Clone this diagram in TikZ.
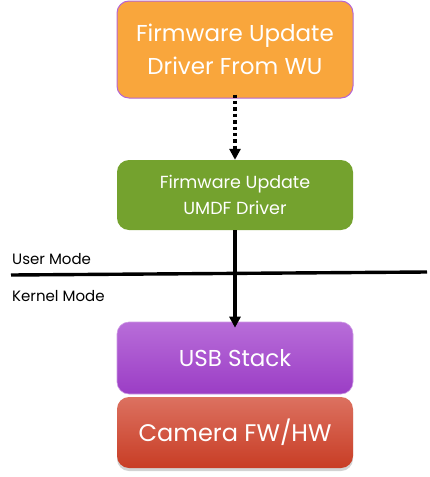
\documentclass[tikz,border=0pt]{standalone}
\usepackage{fontspec}
\setmainfont{Poppins}
\usetikzlibrary{arrows.meta,shadows}
\definecolor{orangefill}{HTML}{F9A63C}
\definecolor{orangeedge}{HTML}{B566D4}
\definecolor{greenfill}{HTML}{74A22E}
\definecolor{usbtop}{HTML}{B86DD9}
\definecolor{usbbot}{HTML}{9B3DC5}
\definecolor{camtop}{HTML}{DC7160}
\definecolor{cambot}{HTML}{C83D25}
\tikzset{
  box/.style={rounded corners=12pt, minimum width=236pt, inner sep=0pt, align=center, text=white},
  lbl/.style={anchor=west, inner sep=0pt, font=\fontsize{15}{17}\selectfont},
  conn/.style={line width=3.4pt, -{Triangle[length=11pt,width=11pt]}},
}
\begin{document}
\begin{tikzpicture}[x=1pt,y=-1pt]
\useasboundingbox (0,0) rectangle (429,477);
\node[box, fill=orangefill, draw=orangeedge, line width=1pt, minimum height=97pt,
  font=\fontsize{23}{33}\selectfont] (wu) at (235,49.5) {Firmware Update\\Driver From WU};
\node[box, fill=greenfill, minimum height=70pt,
  font=\fontsize{17.5}{26}\selectfont] (umdf) at (235,195) {Firmware Update\\UMDF Driver};
\node[box, top color=usbtop, bottom color=usbbot, draw=usbtop!70!white, line width=0.6pt, minimum height=72pt,
  font=\fontsize{23}{26}\selectfont] (usb) at (235,358) {USB Stack};
\node[box, top color=camtop, bottom color=cambot, minimum height=71pt,
  drop shadow={shadow xshift=0pt, shadow yshift=-3pt, opacity=0.35},
  font=\fontsize{24}{26}\selectfont] (cam) at (235,432.5) {Camera FW/HW};
\coordinate (lineL) at (11,275);
\coordinate (lineR) at (427,272);
\draw[line width=3.4pt] (lineL) -- (lineR);
\node[lbl] (user) at (12,259) {User Mode};
\node[lbl] (kernel) at (12,296) {Kernel Mode};
\draw[conn, dash pattern=on 3.4pt off 3pt] ([yshift=4pt]wu.south) -- (umdf.north);
\draw[conn] (umdf.south) -- ([yshift=-6pt]usb.north);
\end{tikzpicture}
\end{document}
